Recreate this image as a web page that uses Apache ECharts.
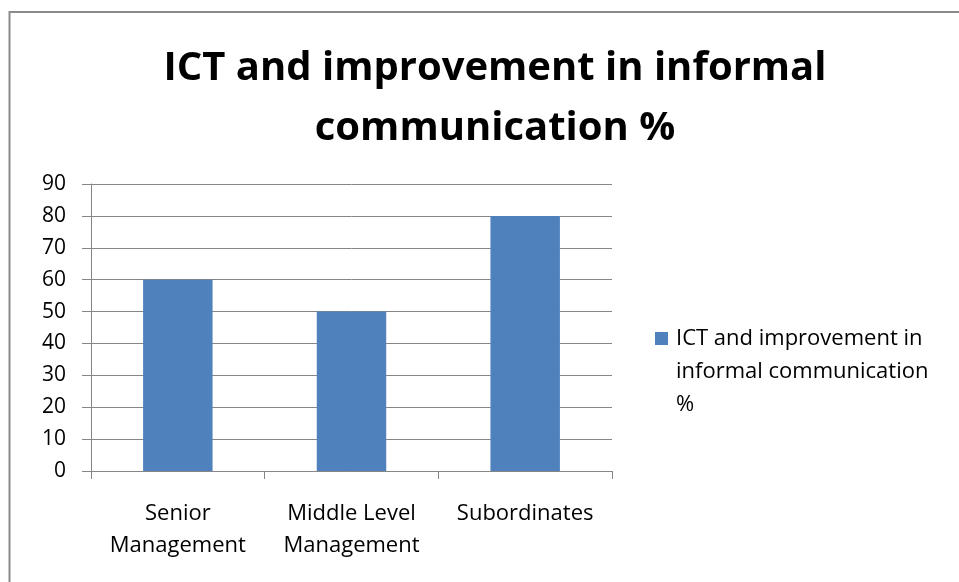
<!DOCTYPE html>
<html>
<head>
<meta charset="utf-8">
<script src="https://cdn.jsdelivr.net/npm/echarts@6/dist/echarts.min.js"></script>
<style>
  html, body { margin: 0; padding: 0; background: #fff; }
  #chart { width: 959px; height: 582px; }
</style>
</head>
<body>
<div id="chart"></div>
<script>
// Survey groups and the share reporting improved informal communication
const categories = ['Senior\nManagement', 'Middle Level\nManagement', 'Subordinates'];
const values = [60, 50, 80];
const seriesName = 'ICT and improvement in\ninformal communication\n%';
const titleText = 'ICT and improvement in informal\ncommunication %';
const yTicks = { min: 0, max: 90, interval: 10 };

const FONT = '"Open Sans", Lato, sans-serif';
const BAR_COLOR = '#4F81BD';
const chart = echarts.init(document.getElementById('chart'), null, { renderer: 'canvas' });

chart.setOption({
  backgroundColor: '#ffffff',
  animation: false,
  title: {
    text: titleText,
    left: 490,
    top: 34,
    textAlign: 'center',
    textStyle: {
      fontFamily: FONT,
      fontWeight: 'bold',
      fontSize: 40,
      lineHeight: 60,
      color: '#000000'
    }
  },
  grid: {
    left: 91,
    right: 347,
    top: 184,
    bottom: 111,
    containLabel: false
  },
  xAxis: {
    type: 'category',
    data: categories,
    axisLine: { show: true, lineStyle: { color: '#868686', width: 1 } },
    axisTick: { show: true, length: 8, lineStyle: { color: '#868686' } },
    axisLabel: {
      color: '#000000',
      fontFamily: FONT,
      fontSize: 22,
      lineHeight: 32,
      margin: 27,
      interval: 0
    },
    splitLine: { show: false }
  },
  yAxis: {
    type: 'value',
    min: yTicks.min,
    max: yTicks.max,
    interval: yTicks.interval,
    axisLine: { show: true, lineStyle: { color: '#868686', width: 1 } },
    axisTick: { show: true, length: 9, lineStyle: { color: '#868686' } },
    axisLabel: {
      color: '#000000',
      fontFamily: FONT,
      fontSize: 21,
      margin: 25
    },
    splitLine: { show: true, lineStyle: { color: '#868686', width: 1 } }
  },
  series: [{
    name: seriesName,
    type: 'bar',
    data: values,
    barWidth: '40%',
    itemStyle: { color: BAR_COLOR }
  }],
  graphic: [
    // legend: swatch beside the first line of the wrapped series name
    {
      type: 'rect',
      shape: { x: 655, y: 332, width: 13, height: 13 },
      style: { fill: BAR_COLOR },
      silent: true
    },
    {
      type: 'text',
      left: 676,
      top: 322,
      style: {
        text: seriesName,
        fontFamily: FONT,
        fontSize: 22,
        lineHeight: 33,
        fill: '#000000'
      },
      silent: true
    },
    // chart-area frame
    {
      type: 'rect',
      shape: { x: 9.5, y: 12, width: 1000, height: 600 },
      style: { fill: null, stroke: '#8a8a8a', lineWidth: 2 },
      silent: true,
      z: 100
    }
  ]
});
</script>
</body>
</html>
